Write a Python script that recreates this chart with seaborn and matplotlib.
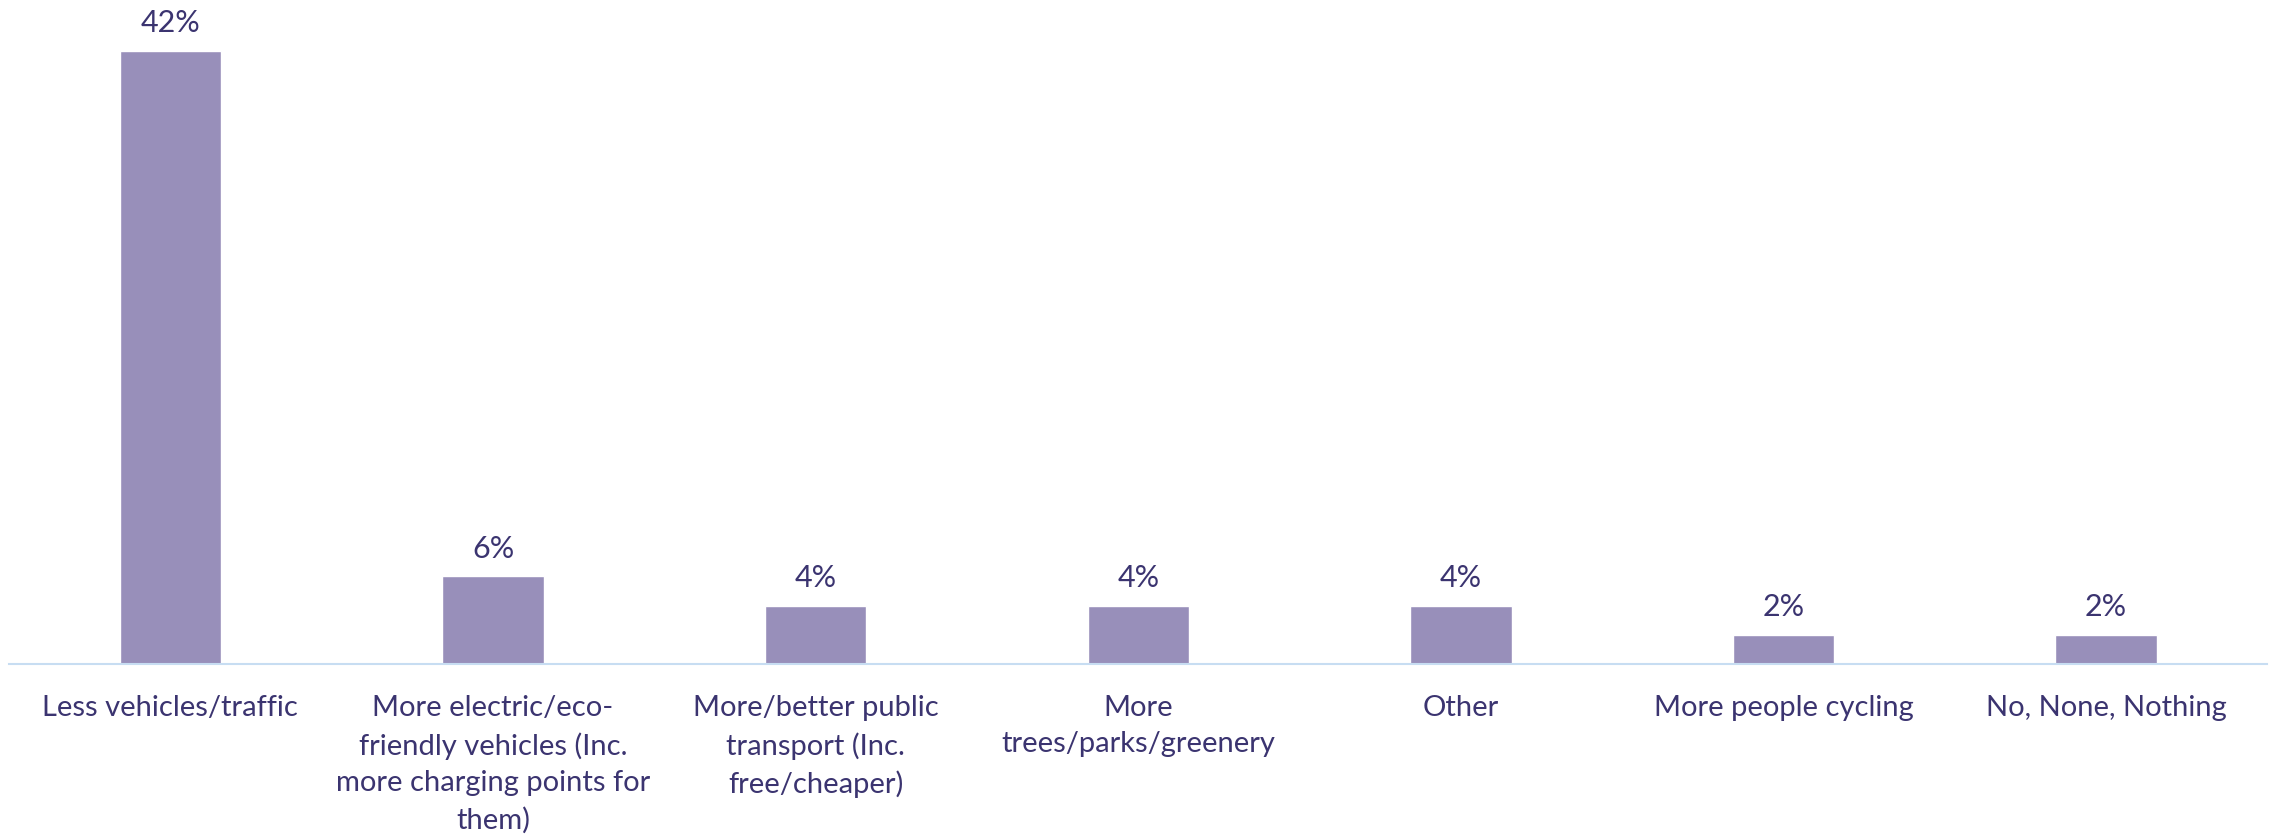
import pandas as pd
import matplotlib.pyplot as plt
import seaborn as sns

# Chart data
categories = [
    "Less vehicles/traffic",
    "More electric/eco-\nfriendly vehicles (Inc.\nmore charging points for\nthem)",
    "More/better public\ntransport (Inc.\nfree/cheaper)",
    "More\ntrees/parks/greenery",
    "Other",
    "More people cycling",
    "No, None, Nothing",
]
values = [42, 6, 4, 4, 4, 2, 2]

df = pd.DataFrame({"category": categories, "value": values})

sns.set_theme(style="white")
plt.rcParams['font.family'] = ['Lato', 'DejaVu Sans']

text_color = "#3B3470"
bar_color = "#988FBA"

fig = plt.figure(figsize=(22.72, 8.38), dpi=100)
ax = fig.add_axes([0.004, 0.2076, 0.994, 0.784])

sns.barplot(data=df, x="category", y="value", color=bar_color,
            width=0.314, saturation=1, ax=ax)

ax.bar_label(ax.containers[0], labels=[f"{v}%" for v in values],
             padding=10, fontsize=22, color=text_color)

ax.set_xlim(-0.5, len(categories) - 0.5)
ax.set_ylim(0, 45)
ax.set_xlabel("")
ax.set_ylabel("")
ax.set_yticks([])
for side in ["top", "right", "left"]:
    ax.spines[side].set_visible(False)
ax.spines["bottom"].set_color("#C7DDF2")
ax.spines["bottom"].set_linewidth(1.5)
ax.tick_params(axis="x", length=0, pad=22, labelsize=21, labelcolor=text_color)
for lbl in ax.get_xticklabels():
    lbl.set_linespacing(1.5)
    lbl.set_verticalalignment("top")

fig.savefig("out.png", dpi=100, facecolor="white")
